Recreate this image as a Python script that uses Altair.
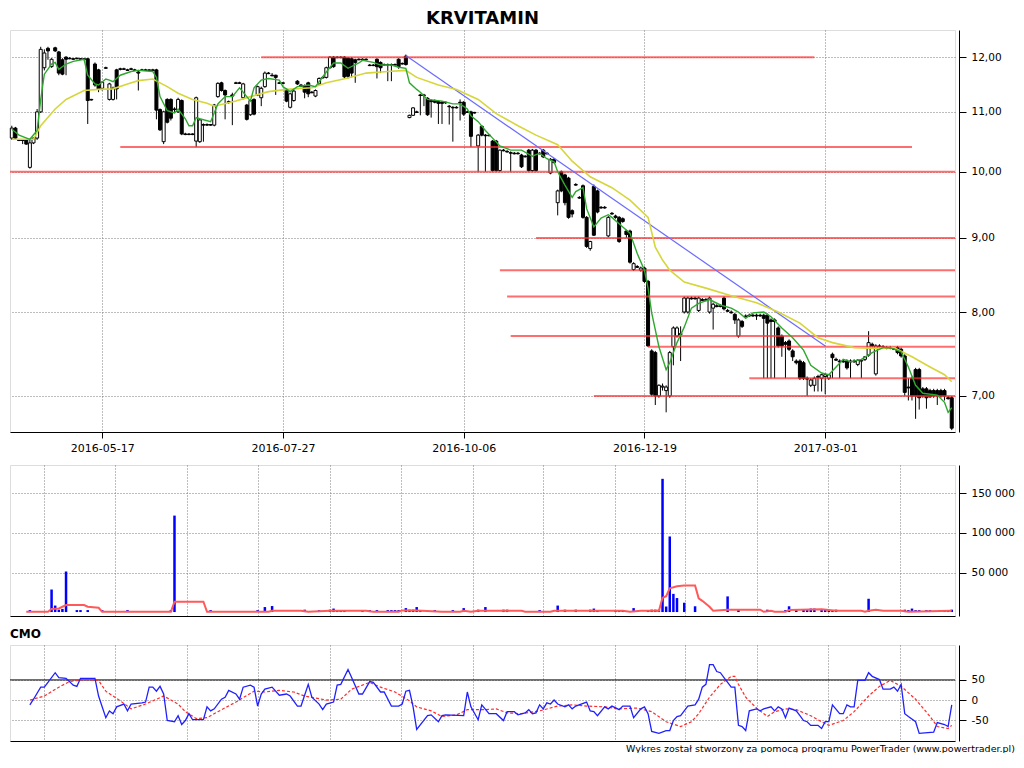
import altair as alt
import pandas as pd

FONT = "DejaVu Sans"
TITLE = "KRVITAMIN"
FOOTER = "Wykres został stworzony za pomocą programu PowerTrader (www.powertrader.pl)"

# ---------------- data ----------------
# one tuple per session: (open, high, low, close); session index = position
candles = [
    (10.55, 10.76, 10.52, 10.72), (10.72, 10.74, 10.52, 10.55), (10.52, 10.53, 10.50, 10.51), (10.52, 10.53, 10.45, 10.51),
    (10.52, 10.53, 10.44, 10.45), (10.07, 10.52, 10.05, 10.47), (10.47, 10.56, 10.45, 10.55), (10.55, 11.05, 10.52, 11.00),
    (11.00, 12.20, 10.98, 12.15), (11.80, 12.15, 11.75, 12.08), (12.17, 12.20, 11.95, 12.12), (11.82, 11.98, 11.80, 11.96),
    (12.18, 12.20, 12.10, 12.12), (12.10, 12.12, 11.66, 11.70), (11.95, 11.98, 11.66, 11.68), (12.00, 12.02, 11.66, 11.96),
    (11.98, 12.00, 11.96, 11.97), (11.97, 11.98, 11.95, 11.96), (11.98, 11.99, 11.96, 11.97), (11.97, 11.98, 11.95, 11.96),
    (11.97, 11.98, 11.94, 11.96), (11.97, 11.98, 10.79, 11.20), (11.22, 11.23, 11.20, 11.21), (11.87, 11.90, 11.45, 11.48),
    (11.76, 11.78, 11.35, 11.40), (11.42, 11.55, 11.38, 11.53), (11.80, 11.82, 11.78, 11.79), (11.22, 11.52, 11.20, 11.50),
    (11.22, 11.45, 11.20, 11.42), (11.76, 11.78, 11.22, 11.41), (11.78, 11.80, 11.75, 11.77), (11.78, 11.80, 11.76, 11.77),
    (11.76, 11.78, 11.74, 11.75), (11.78, 11.80, 11.76, 11.77), (11.76, 11.78, 11.74, 11.75), (11.72, 11.76, 11.38, 11.70),
    (11.76, 11.78, 11.74, 11.75), (11.76, 11.78, 11.74, 11.75), (11.76, 11.77, 11.74, 11.75), (11.76, 11.78, 11.74, 11.75),
    (11.76, 11.78, 10.87, 11.03), (11.04, 11.06, 10.67, 10.69), (10.49, 11.02, 10.45, 11.00), (11.22, 11.24, 10.80, 10.82),
    (11.22, 11.24, 10.85, 10.89), (11.05, 11.08, 11.00, 11.04), (11.00, 11.25, 10.98, 11.22), (11.20, 11.22, 10.60, 10.62),
    (10.62, 10.64, 10.60, 10.61), (10.62, 10.63, 10.60, 10.61), (10.62, 10.63, 10.60, 10.61), (10.50, 11.27, 10.40, 11.25),
    (10.49, 10.88, 10.47, 10.86), (10.78, 10.80, 10.49, 10.77), (10.78, 10.80, 10.76, 10.77), (10.78, 10.79, 10.76, 10.77),
    (10.77, 11.14, 10.75, 11.12), (11.27, 11.53, 11.25, 11.51), (11.52, 11.54, 11.36, 11.38), (11.38, 11.40, 10.87, 11.30),
    (11.18, 11.20, 11.14, 11.17), (11.30, 11.34, 10.77, 11.28), (11.52, 11.54, 11.50, 11.51), (11.52, 11.54, 11.50, 11.51),
    (11.25, 11.52, 11.22, 11.50), (11.12, 11.14, 10.85, 10.87), (10.95, 11.22, 10.93, 11.20), (11.22, 11.24, 10.94, 10.96),
    (11.30, 11.47, 11.28, 11.45), (11.25, 11.45, 11.10, 11.42), (11.45, 11.73, 11.43, 11.70), (11.70, 11.72, 11.68, 11.69),
    (11.66, 11.70, 11.64, 11.65), (11.66, 11.67, 11.30, 11.62), (11.52, 11.54, 11.50, 11.51), (11.52, 11.53, 11.50, 11.51),
    (11.40, 11.42, 11.17, 11.19), (11.08, 11.34, 11.06, 11.32), (11.20, 11.40, 11.18, 11.37), (11.55, 11.57, 11.48, 11.50),
    (11.48, 11.50, 11.44, 11.46), (11.47, 11.49, 11.24, 11.35), (11.52, 11.54, 11.26, 11.32), (11.35, 11.37, 11.33, 11.34),
    (11.28, 11.40, 11.26, 11.38), (11.50, 11.62, 11.48, 11.60), (11.62, 11.64, 11.60, 11.61), (11.62, 11.82, 11.60, 11.80),
    (11.80, 12.02, 11.78, 12.00), (12.00, 12.02, 11.80, 11.82), (12.00, 12.02, 11.98, 11.99), (12.00, 12.02, 11.98, 11.99),
    (12.00, 12.02, 11.60, 11.63), (11.98, 12.00, 11.60, 11.64), (11.97, 12.00, 11.62, 11.70), (11.95, 11.97, 11.52, 11.90),
    (11.96, 11.98, 11.94, 11.95), (11.96, 11.98, 11.94, 11.95), (11.96, 11.98, 11.94, 11.95), (11.85, 11.87, 11.83, 11.84),
    (11.85, 11.87, 11.83, 11.84), (11.96, 11.98, 11.60, 11.82), (11.90, 11.92, 11.70, 11.80), (11.86, 11.88, 11.84, 11.85),
    (11.86, 11.88, 11.55, 11.85), (11.86, 11.88, 11.55, 11.85), (11.86, 11.88, 11.84, 11.85), (11.96, 11.98, 11.78, 11.82),
    (11.88, 11.90, 11.86, 11.87), (12.02, 12.05, 11.84, 11.86), (10.90, 10.95, 10.89, 10.94), (10.94, 11.08, 10.93, 11.07),
    (11.00, 11.02, 10.98, 10.99), (11.30, 11.32, 10.94, 11.29), (11.30, 11.32, 11.10, 11.29), (11.24, 11.26, 10.93, 10.95),
    (11.20, 11.22, 10.90, 11.18), (11.20, 11.22, 11.15, 11.17), (11.18, 11.20, 10.79, 11.15), (11.17, 11.19, 10.79, 11.15),
    (11.17, 11.18, 11.14, 11.16), (11.10, 11.12, 10.78, 11.09), (11.08, 11.10, 10.49, 11.07), (11.08, 11.10, 11.06, 11.07),
    (11.17, 11.22, 10.85, 11.16), (11.17, 11.19, 10.93, 10.96), (11.00, 11.02, 10.98, 10.99), (11.00, 11.02, 10.40, 10.58),
    (10.99, 11.00, 10.97, 10.98), (10.42, 10.62, 10.00, 10.60), (10.75, 10.77, 10.58, 10.60), (10.60, 10.62, 10.00, 10.59),
    (10.60, 10.62, 10.58, 10.59), (10.50, 10.52, 10.00, 10.02), (10.50, 10.52, 10.00, 10.02), (10.02, 10.36, 10.00, 10.35),
    (10.35, 10.37, 10.33, 10.34), (10.33, 10.35, 10.31, 10.32), (10.31, 10.33, 10.00, 10.30), (10.30, 10.32, 10.28, 10.29),
    (10.30, 10.32, 10.28, 10.29), (10.27, 10.29, 10.06, 10.08), (10.25, 10.27, 10.23, 10.24), (10.35, 10.37, 10.00, 10.02),
    (10.02, 10.37, 10.00, 10.35), (10.35, 10.37, 10.00, 10.02), (10.30, 10.32, 10.28, 10.29), (10.35, 10.37, 10.22, 10.24),
    (10.30, 10.32, 10.28, 10.29), (9.98, 10.22, 9.96, 10.20), (10.20, 10.22, 10.13, 10.15), (9.52, 9.72, 9.33, 9.70),
    (10.00, 10.02, 9.68, 9.70), (9.95, 9.97, 9.48, 9.52), (9.90, 9.92, 9.28, 9.30), (9.40, 9.42, 9.30, 9.35),
    (9.80, 9.82, 9.78, 9.79), (9.60, 9.62, 9.58, 9.59), (9.78, 9.80, 9.28, 9.30), (9.30, 9.32, 8.86, 8.88),
    (8.85, 8.96, 8.82, 8.95), (9.77, 9.80, 9.03, 9.04), (9.70, 9.72, 9.36, 9.38), (9.45, 9.47, 9.43, 9.44),
    (9.45, 9.47, 9.43, 9.44), (9.03, 9.32, 9.01, 9.30), (9.36, 9.38, 9.34, 9.35), (9.32, 9.34, 9.28, 9.30),
    (9.30, 9.32, 8.93, 8.95), (9.28, 9.30, 9.22, 9.24), (9.10, 9.12, 9.00, 9.05), (9.10, 9.12, 8.64, 8.66),
    (8.56, 8.66, 8.54, 8.64), (8.60, 8.62, 8.58, 8.59), (8.55, 8.60, 8.53, 8.58), (8.58, 8.60, 8.38, 8.40),
    (8.40, 8.42, 7.57, 7.58), (7.52, 7.54, 7.00, 7.02), (7.50, 7.52, 6.90, 7.00), (7.00, 7.13, 6.98, 7.12),
    (7.10, 7.14, 7.06, 7.11), (7.06, 7.12, 6.82, 7.10), (7.00, 7.52, 6.98, 7.50), (7.57, 7.82, 7.35, 7.80),
    (7.70, 7.82, 7.68, 7.80), (7.72, 7.82, 7.40, 7.73), (8.00, 8.20, 7.98, 8.18), (8.00, 8.20, 7.98, 8.18),
    (8.18, 8.20, 8.16, 8.17), (8.18, 8.20, 8.16, 8.17), (8.02, 8.20, 8.00, 8.18), (8.16, 8.18, 8.14, 8.15),
    (8.16, 8.18, 8.14, 8.15), (8.00, 8.20, 7.98, 8.18), (8.05, 8.12, 7.78, 8.10), (8.08, 8.10, 8.06, 8.07),
    (8.08, 8.10, 8.06, 8.07), (8.18, 8.20, 8.02, 8.04), (8.02, 8.04, 8.00, 8.01), (8.00, 8.02, 7.98, 7.99),
    (7.97, 7.99, 7.85, 7.90), (7.70, 7.92, 7.68, 7.90), (7.88, 7.90, 7.80, 7.82), (7.95, 7.97, 7.93, 7.94),
    (7.96, 7.98, 7.94, 7.95), (7.96, 7.98, 7.94, 7.95), (7.96, 7.98, 7.90, 7.95), (7.96, 7.98, 7.94, 7.95),
    (7.96, 7.98, 7.20, 7.92), (7.96, 7.98, 7.20, 7.86), (7.90, 7.92, 7.20, 7.88), (7.90, 7.92, 7.20, 7.88),
    (7.80, 7.82, 7.56, 7.58), (7.70, 7.72, 7.45, 7.58), (7.62, 7.64, 7.20, 7.60), (7.64, 7.66, 7.52, 7.54),
    (7.52, 7.54, 7.40, 7.45), (7.40, 7.42, 7.36, 7.38), (7.40, 7.42, 7.18, 7.20), (7.38, 7.40, 7.18, 7.20),
    (7.20, 7.22, 7.00, 7.19), (7.12, 7.20, 7.10, 7.18), (7.12, 7.22, 7.05, 7.20), (7.22, 7.24, 7.05, 7.21),
    (7.20, 7.25, 7.05, 7.24), (7.22, 7.26, 7.02, 7.24), (7.20, 7.25, 7.18, 7.24), (7.48, 7.50, 7.20, 7.44),
    (7.42, 7.44, 7.40, 7.41), (7.40, 7.42, 7.20, 7.39), (7.40, 7.42, 7.38, 7.39), (7.40, 7.42, 7.30, 7.32),
    (7.40, 7.42, 7.20, 7.39), (7.40, 7.42, 7.38, 7.39), (7.36, 7.42, 7.34, 7.41), (7.40, 7.42, 7.20, 7.41),
    (7.42, 7.46, 7.40, 7.45), (7.47, 7.76, 7.45, 7.62), (7.60, 7.62, 7.56, 7.58), (7.25, 7.60, 7.23, 7.58),
    (7.58, 7.60, 7.56, 7.57), (7.57, 7.59, 7.55, 7.56), (7.56, 7.58, 7.54, 7.55), (7.56, 7.58, 7.54, 7.55),
    (7.55, 7.57, 7.53, 7.54), (7.56, 7.58, 7.48, 7.50), (7.54, 7.56, 7.44, 7.46), (7.46, 7.48, 7.00, 7.04),
    (7.10, 7.20, 6.95, 7.09), (7.20, 7.22, 6.95, 7.00), (7.30, 7.32, 6.75, 7.00), (7.30, 7.32, 6.85, 6.98),
    (7.08, 7.10, 6.98, 7.00), (7.08, 7.10, 6.86, 6.98), (7.06, 7.08, 6.98, 6.99), (7.06, 7.08, 6.98, 7.00),
    (7.06, 7.08, 6.90, 7.00), (7.06, 7.08, 6.98, 7.00), (7.06, 7.08, 6.95, 7.00), (6.98, 7.00, 6.96, 6.97),
    (6.98, 7.00, 6.63, 6.65),
]

date_ticks = [25, 75, 125, 175, 225]
date_labels = ["2016-05-17", "2016-07-27", "2016-10-06", "2016-12-19", "2017-03-01"]
price_ticks = [7, 8, 9, 10, 11, 12]
volume_ticks = [50000, 100000, 150000]
cmo_ticks = [-50, 0, 50]
lower_grid = [8.8, 28.6, 48.4, 68.1, 87.9, 107.7, 127.5, 147.0, 166.8, 186.3, 206.0, 225.8, 245.6]

# short (green) and long (yellow) moving averages: (session, value)
ma_fast = [
    (0, 10.70), (2, 10.60), (5, 10.53), (7, 10.68), (8, 11.22), (9, 11.68), (11, 11.87), (12, 11.90), (13, 11.77),
    (15, 11.87), (17, 11.92), (20, 11.96), (21, 11.66), (23, 11.50), (24, 11.48), (26, 11.59), (27, 11.57), (28, 11.54),
    (30, 11.66), (33, 11.73), (35, 11.75), (39, 11.73), (40, 11.62), (41, 11.27), (43, 11.02), (45, 10.98), (46, 11.05),
    (48, 10.88), (49, 10.76), (50, 10.76), (51, 10.90), (52, 10.88), (55, 10.83), (57, 11.14), (59, 11.27), (61, 11.27),
    (63, 11.43), (65, 11.27), (66, 11.19), (67, 11.43), (69, 11.57), (71, 11.60), (74, 11.57), (75, 11.45), (77, 11.36),
    (79, 11.45), (82, 11.48), (84, 11.45), (85, 11.54), (87, 11.72), (89, 11.89), (91, 11.89), (93, 11.79), (96, 11.89),
    (97, 11.94), (100, 11.90), (102, 11.85), (105, 11.85), (107, 11.81), (109, 11.79), (110, 11.52), (112, 11.40),
    (113, 11.35), (115, 11.22), (119, 11.19), (122, 11.14), (124, 11.14), (126, 11.05), (127, 10.93), (129, 10.83),
    (131, 10.68), (133, 10.55), (135, 10.42), (138, 10.35), (141, 10.35), (144, 10.25), (146, 10.30), (148, 10.21),
    (150, 10.16), (151, 10.00), (153, 9.79), (155, 9.60), (156, 9.69), (158, 9.75), (159, 9.43), (161, 9.16),
    (163, 9.29), (165, 9.34), (166, 9.30), (169, 9.16), (171, 9.07), (173, 8.78), (175, 8.55), (176, 8.31),
    (177, 7.99), (179, 7.57), (181, 7.30), (182, 7.38), (184, 7.62), (186, 7.81), (188, 8.05), (190, 8.11),
    (193, 8.16), (196, 8.09), (199, 8.05), (201, 8.00), (203, 7.92), (205, 7.99), (208, 8.00), (210, 7.94),
    (213, 7.80), (216, 7.68), (219, 7.53), (221, 7.35), (224, 7.26), (226, 7.24), (228, 7.33), (230, 7.42),
    (232, 7.39), (235, 7.42), (238, 7.50), (241, 7.56), (243, 7.56), (246, 7.51), (248, 7.33), (250, 7.12),
    (252, 7.03), (256, 7.01), (258, 6.93), (259, 6.82), (260, 6.87),
]
ma_slow = [
    (0, 10.53), (6, 10.53), (8, 10.76), (12, 11.05), (15, 11.22), (20, 11.38), (24, 11.40), (28, 11.41), (32, 11.50),
    (35, 11.56), (39, 11.59), (43, 11.45), (46, 11.33), (50, 11.22), (54, 11.15), (56, 11.10), (62, 11.19), (66, 11.27),
    (71, 11.36), (76, 11.40), (83, 11.43), (87, 11.52), (93, 11.61), (98, 11.70), (104, 11.73), (109, 11.75),
    (112, 11.62), (118, 11.48), (123, 11.40), (129, 11.22), (134, 10.97), (140, 10.76), (145, 10.60), (151, 10.44),
    (155, 10.17), (160, 9.92), (166, 9.75), (171, 9.56), (176, 9.30), (178, 8.87), (180, 8.69), (182, 8.55),
    (186, 8.39), (192, 8.31), (199, 8.21), (206, 8.12), (212, 8.00), (218, 7.86), (223, 7.68), (227, 7.62),
    (233, 7.56), (239, 7.55), (244, 7.56), (249, 7.45), (254, 7.33), (258, 7.24), (260, 7.16),
]

# horizontal support / resistance lines: (price, first session, last session)
levels = [
    (12.00, 69, 222), (10.40, 30, 249), (10.00, -0.5, 260.9), (9.00, 145, 260.9), (8.55, 135, 260.9),
    (8.20, 137, 260.9), (7.70, 138, 260.9), (7.57, 176, 260.9), (7.20, 204, 260.9), (7.00, 161, 260.9),
]
trend = [(109, 12.03), (225, 7.58)]

volume = [
    (5, 2500), (11, 28500), (12, 8200), (13, 3000), (14, 4000), (15, 51300), (18, 2500), (19, 2500), (21, 2500),
    (25, 2500), (32, 2500), (44, 2500), (45, 122000), (55, 2500), (68, 2500), (70, 6300), (72, 7600), (81, 3000),
    (85, 2500), (88, 3000), (89, 4400), (90, 2500), (91, 2500), (92, 2500), (97, 2500), (99, 2500), (101, 2500),
    (104, 2500), (105, 2500), (106, 2500), (107, 2500), (109, 5000), (110, 3000), (111, 3000), (112, 6300),
    (113, 2500), (117, 2500), (122, 2500), (125, 5000), (129, 3000), (131, 6300), (136, 3000), (137, 3000),
    (146, 2500), (151, 8200), (153, 3000), (156, 3000), (160, 3000), (161, 4400), (162, 2500), (167, 2500),
    (168, 2500), (169, 2500), (172, 5000), (176, 2500), (177, 3000), (178, 3000), (179, 3000), (180, 168500),
    (181, 7000), (182, 95600), (183, 23000), (184, 17700), (186, 11800), (189, 7300), (198, 19800), (201, 2500),
    (209, 3000), (214, 2500), (215, 7300), (217, 2500), (219, 3000), (220, 2500), (221, 4400), (222, 4400),
    (224, 2500), (225, 3000), (226, 2500), (227, 2500), (228, 3000), (237, 16800), (247, 3000), (248, 2500),
    (249, 4400), (250, 2500), (251, 2500), (253, 2500), (254, 2500), (258, 2500), (259, 2500), (260, 3000),
]
volume_ma = [
    (4, 300), (10, 300), (11, 3800), (13, 4600), (15, 8800), (20, 8800), (21, 6700), (24, 5400), (25, 400),
    (44, 400), (45, 13000), (53, 13000), (54, 400), (71, 400), (72, 1600), (80, 1600), (82, 400), (88, 1600),
    (98, 1600), (100, 400), (107, 400), (108, 2100), (112, 2100), (119, 300), (124, 300), (125, 1600), (127, 300),
    (129, 1600), (141, 1600), (142, 300), (149, 300), (150, 1600), (169, 1600), (171, 300), (174, 1600),
    (179, 1600), (180, 18000), (181, 20000), (182, 30000), (184, 32700), (186, 33600), (189, 33600), (190, 17300),
    (191, 14200), (193, 6700), (194, 1600), (198, 2900), (207, 2900), (208, 300), (210, 1600), (211, 300),
    (214, 300), (215, 2500), (224, 3400), (228, 1600), (235, 1600), (236, 300), (237, 1600), (239, 2900),
    (241, 1600), (246, 1600), (248, 400), (260, 1600),
]

cmo = [
    (5, -12), (6, 2), (8, 32), (9, 32), (10, 44), (12, 68), (13, 56), (15, 54), (17, 37), (18, 34), (19, 54), (23, 54),
    (24, 10), (26, -44), (27, -27), (28, -34), (29, -17), (31, -10), (32, -27), (33, -10), (36, -7), (37, -5), (38, 32),
    (39, 32), (40, 22), (41, 34), (42, 15), (43, -51), (45, -54), (46, -39), (47, -61), (48, -51), (49, -34), (50, -49),
    (53, -49), (54, -17), (55, -27), (56, -22), (58, 2), (59, 7), (60, 24), (62, 15), (63, 2), (64, 32), (66, 37),
    (67, 32), (68, -15), (69, 15), (70, 27), (72, 32), (74, 12), (76, 15), (77, 10), (79, -15), (80, -15), (82, 39),
    (83, 7), (85, -10), (86, -24), (87, -10), (89, -5), (90, 37), (91, 39), (93, 76), (94, 56), (96, 15), (97, 15),
    (99, 46), (100, 44), (102, 20), (103, 20), (105, -15), (107, -15), (108, -10), (109, 22), (110, 24), (111, -17),
    (112, -73), (115, -39), (116, -37), (118, -54), (119, -39), (120, -37), (125, -39), (126, 20), (127, -17),
    (129, -49), (130, -12), (132, -34), (134, -34), (136, -51), (137, -29), (139, -29), (140, -37), (142, -32),
    (143, -24), (144, -34), (145, -32), (146, -12), (147, -22), (148, -7), (149, -10), (150, 0), (151, -10),
    (153, -17), (154, -12), (155, -22), (156, -15), (159, -5), (160, -27), (161, -29), (162, -39), (164, -17),
    (165, -22), (166, -15), (168, -24), (169, -15), (171, -15), (172, -44), (174, -22), (175, -17), (176, -34),
    (177, -78), (179, -83), (181, -76), (182, -76), (183, -51), (184, -41), (185, -39), (186, -27), (187, -15),
    (189, -12), (190, 2), (191, 32), (192, 39), (193, 88), (194, 88), (195, 71), (196, 68), (197, 56), (199, 32),
    (200, 32), (201, -63), (202, -66), (203, -76), (204, -27), (206, -22), (207, -27), (208, -22), (210, -17),
    (211, -27), (212, -17), (213, -22), (214, -44), (215, -20), (217, -27), (218, -39), (219, -51), (220, -54),
    (221, -63), (223, -63), (224, -71), (225, -54), (226, -54), (227, -12), (229, -34), (230, -34), (231, -12),
    (232, -17), (233, -17), (234, 49), (236, 49), (237, 68), (238, 59), (240, 51), (241, 27), (243, 27), (244, 32),
    (245, 22), (246, 39), (247, -34), (248, -41), (250, -54), (251, -83), (255, -80), (256, -56), (258, -61),
    (259, -66), (260, -12),
]
cmo_signal = [
    (5, 0), (9, 10), (13, 32), (16, 46), (20, 51), (24, 49), (26, 22), (30, -2), (33, -22), (37, -10), (39, -2),
    (42, 10), (46, -10), (48, -29), (51, -46), (54, -44), (57, -29), (62, -5), (67, 22), (70, 20), (74, 24), (78, 20),
    (81, 10), (87, 0), (91, 2), (94, 27), (99, 44), (102, 32), (106, 20), (110, -2), (112, -17), (116, -27),
    (119, -41), (123, -37), (126, -24), (131, -24), (134, -22), (137, -32), (141, -34), (146, -27), (151, -15),
    (155, -12), (159, -15), (164, -17), (168, -22), (173, -20), (177, -29), (181, -54), (185, -66), (188, -54),
    (190, -34), (193, 7), (196, 39), (199, 59), (200, 59), (201, 39), (203, 7), (206, -20), (209, -41), (211, -29),
    (214, -22), (217, -24), (221, -39), (224, -54), (226, -63), (230, -51), (233, -29), (237, 10), (240, 34),
    (243, 49), (246, 34), (250, 2), (254, -41), (256, -66), (259, -71), (260, -63),
]
cmo_level = [50]

# ---------------- tables ----------------
cdf = pd.DataFrame(candles, columns=["open", "high", "low", "close"])
cdf["i"] = range(len(cdf))
cdf["dir"] = ["up" if c > o else "down" for o, h, l, c in candles]
fast_df = pd.DataFrame(ma_fast, columns=["i", "v"])
slow_df = pd.DataFrame(ma_slow, columns=["i", "v"])
lvl_df = pd.DataFrame(levels, columns=["price", "start", "end"])
trend_df = pd.DataFrame(trend, columns=["i", "v"])
vol_df = pd.DataFrame(volume, columns=["i", "v"])
volma_df = pd.DataFrame(volume_ma, columns=["i", "v"])
cmo_df = pd.DataFrame(cmo, columns=["i", "v"])
sig_df = pd.DataFrame(cmo_signal, columns=["i", "v"])
lvl50_df = pd.DataFrame({"v": cmo_level})

# ---------------- scales & axes ----------------
W = 945
GRID = "#7a7a7a"
xs = alt.Scale(domain=[-0.5, 260.9], nice=False, zero=False, padding=0)

label_expr = "''"
for t, lab in reversed(list(zip(date_ticks, date_labels))):
    label_expr = f"datum.value == {t} ? '{lab}' : ({label_expr})"

x_axis_price = alt.Axis(values=date_ticks, labelExpr=label_expr, title=None, grid=True, gridDash=[1, 2],
                        gridColor=GRID, domainColor="black", tickColor="black", tickSize=6, labelPadding=4,
                        labelFontSize=11, labelColor="black", labelFont=FONT, labelFlush=False,
                        labelOverlap=False)
x_axis_low = alt.Axis(values=lower_grid, labels=False, ticks=False, title=None, grid=True, gridDash=[1, 2],
                      gridColor=GRID, domainColor="black")


def right_axis(values, expr):
    return alt.Axis(orient="right", values=values, labelExpr=expr, title=None, grid=True, gridDash=[1, 2],
                    gridColor=GRID, domainColor="black", tickColor="black", tickSize=7, offset=4,
                    labelPadding=5, labelFontSize=10.5, labelColor="black", labelFont=FONT)


y_axis_price = right_axis(price_ticks, "replace(format(datum.value, '.2f'), '.', ',')")
y_axis_vol = right_axis(volume_ticks, "replace(format(datum.value, ','), ',', ' ')")
y_axis_cmo = right_axis(cmo_ticks, "datum.value < 0 ? '-' + abs(datum.value) : '' + datum.value")

ys_price = alt.Scale(type="log", domain=[6.61, 12.53], nice=False, zero=False, padding=0)
ys_vol = alt.Scale(domain=[-5000, 186000], nice=False, zero=False, padding=0)
ys_cmo = alt.Scale(domain=[-102, 137], nice=False, zero=False, padding=0)


def PX(f):
    return alt.X(f"{f}:Q", scale=xs, axis=x_axis_price)


def PY(f):
    return alt.Y(f"{f}:Q", scale=ys_price, axis=y_axis_price)


# ---------------- price panel ----------------
wicks = alt.Chart(cdf).mark_rule(color="black", strokeWidth=1).encode(x=PX("i"), y=PY("low"), y2="high")
bodies = alt.Chart(cdf).mark_bar(size=3, stroke="black", strokeWidth=1).encode(
    x=PX("i"), y=PY("open"), y2="close",
    fill=alt.Fill("dir:N", scale=alt.Scale(domain=["up", "down"], range=["white", "black"]), legend=None),
)
lvl_layer = alt.Chart(lvl_df).mark_rule(color="#ff3030", strokeWidth=2, opacity=0.7).encode(
    x=PX("start"), x2="end", y=PY("price"))
trend_layer = alt.Chart(trend_df).mark_line(color="#6b6bff", strokeWidth=1.2).encode(x=PX("i"), y=PY("v"))
slow_layer = alt.Chart(slow_df).mark_line(color="#d6d63c", strokeWidth=1.6).encode(x=PX("i"), y=PY("v"))
fast_layer = alt.Chart(fast_df).mark_line(color="#2ea82e", strokeWidth=1.4).encode(x=PX("i"), y=PY("v"))

price = alt.layer(wicks, bodies, lvl_layer, trend_layer, slow_layer, fast_layer).properties(
    width=W, height=402,
    title=alt.TitleParams(TITLE, fontSize=18, fontWeight="bold", font=FONT, anchor="middle", frame="group",
                          offset=2, color="black"),
)

# ---------------- volume panel ----------------
VX = alt.X("i:Q", scale=xs, axis=x_axis_low)
vol_bars = alt.Chart(vol_df).mark_bar(size=2.5, color="#0000ff").encode(
    x=VX, y=alt.Y("v:Q", scale=ys_vol, axis=y_axis_vol), y2=alt.datum(0))
vol_ma_line = alt.Chart(volma_df).mark_line(color="#ff5a5a", strokeWidth=2).encode(
    x=VX, y=alt.Y("v:Q", scale=ys_vol, axis=y_axis_vol))
vol_panel = alt.layer(vol_bars, vol_ma_line).properties(width=W, height=151)

# ---------------- CMO panel ----------------
CY = alt.Y("v:Q", scale=ys_cmo, axis=y_axis_cmo)
cmo_rule = alt.Chart(lvl50_df).mark_rule(color="black", strokeWidth=1).encode(y=CY)
cmo_sig = alt.Chart(sig_df).mark_line(color="#ff2a2a", strokeWidth=1.2, strokeDash=[3, 2]).encode(x=VX, y=CY)
cmo_line = alt.Chart(cmo_df).mark_line(color="#2020ff", strokeWidth=1.3).encode(x=VX, y=CY)
cmo_panel = alt.layer(cmo_rule, cmo_sig, cmo_line).properties(
    width=W, height=96,
    title=alt.TitleParams("CMO", fontSize=12, fontWeight="bold", font=FONT, anchor="start", frame="group",
                          offset=4, color="black"),
)

chart = alt.vconcat(
    price, vol_panel, cmo_panel, spacing=10,
    title=alt.TitleParams(FOOTER, orient="bottom", anchor="end", frame="bounds", fontSize=9.5,
                          fontWeight="normal", font=FONT, offset=2, color="black"),
).properties(
    padding={"left": 0, "top": 1, "right": 0, "bottom": 0},
).configure_view(stroke="transparent").configure(background="white")

chart.save("out.html", embed_options={"renderer": "svg", "actions": False})
